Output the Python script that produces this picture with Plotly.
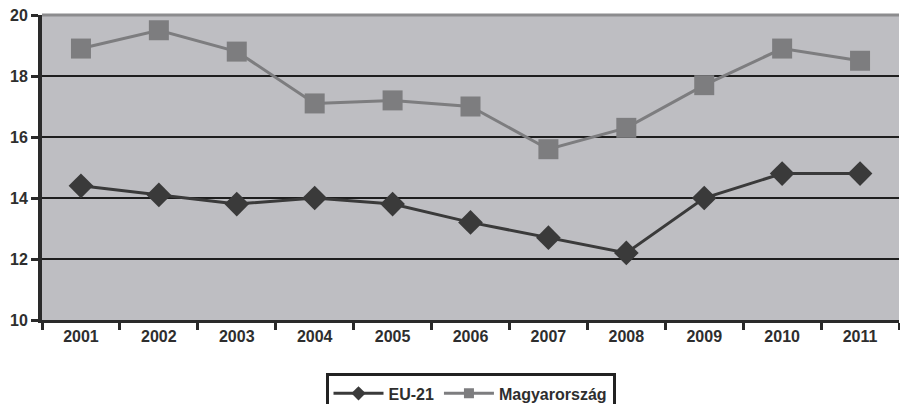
import plotly.graph_objects as go

years = ["2001", "2002", "2003", "2004", "2005", "2006", "2007", "2008", "2009", "2010", "2011"]
eu21 = [14.4, 14.1, 13.8, 14.0, 13.8, 13.2, 12.7, 12.2, 14.0, 14.8, 14.8]
magyarorszag = [18.9, 19.5, 18.8, 17.1, 17.2, 17.0, 15.6, 16.3, 17.7, 18.9, 18.5]
y_ticks = [10, 12, 14, 16, 18, 20]

font = dict(family="Liberation Sans, Arial, sans-serif", size=16, color="#2e2e2e", weight="bold")
EU_COLOR = "#3a3a3a"
HU_COLOR = "#7d7d7f"

fig = go.Figure()
fig.add_trace(go.Scatter(
    x=years, y=eu21, name="EU-21", mode="lines+markers", showlegend=False,
    line=dict(color=EU_COLOR, width=3),
    marker=dict(symbol="diamond", size=19, color=EU_COLOR),
))
fig.add_trace(go.Scatter(
    x=years, y=magyarorszag, name="Magyarország", mode="lines+markers", showlegend=False,
    line=dict(color=HU_COLOR, width=3),
    marker=dict(symbol="square", size=20, color=HU_COLOR),
))
# legend entries with smaller symbols, as in the reference
fig.add_trace(go.Scatter(
    x=[None], y=[None], name="EU-21", mode="lines+markers",
    line=dict(color=EU_COLOR, width=3),
    marker=dict(symbol="diamond", size=11, color=EU_COLOR),
))
fig.add_trace(go.Scatter(
    x=[None], y=[None], name="Magyarország", mode="lines+markers",
    line=dict(color=HU_COLOR, width=3),
    marker=dict(symbol="square", size=10, color=HU_COLOR),
))

fig.update_layout(
    width=900, height=404,
    margin=dict(l=42, r=1, t=15, b=84, autoexpand=False),
    paper_bgcolor="white", plot_bgcolor="#bebec2",
    font=font,
    showlegend=True,
    legend=dict(
        orientation="h", x=0.5, xanchor="center", y=-0.175, yanchor="top",
        bordercolor="#222222", borderwidth=3, bgcolor="white",
        font=font, itemwidth=50, traceorder="normal",
    ),
    xaxis=dict(
        type="category", tickson="boundaries", ticks="outside", ticklen=7,
        tickwidth=3, tickcolor="#2a2a2a", showline=True, linewidth=3, linecolor="#2a2a2a",
        showgrid=False, tickfont=font, range=[-0.5, 10.5], automargin=False,
    ),
    yaxis=dict(
        range=[10, 20], tickvals=y_ticks, ticks="outside", ticklen=7, tickwidth=3,
        tickcolor="#2a2a2a", showline=True, linewidth=4, linecolor="#2a2a2a",
        showgrid=True, gridcolor="#1e1e1e", gridwidth=2, zeroline=False, tickfont=font,
        automargin=False,
    ),
)
fig.add_shape(type="line", xref="paper", yref="paper", x0=0, x1=1, y0=1, y1=1,
              line=dict(color="#8c8c8e", width=3), layer="above")

fig.write_html("out.html", config={"displayModeBar": False},
               post_script="document.body.style.margin='0';document.body.style.overflow='hidden';")
